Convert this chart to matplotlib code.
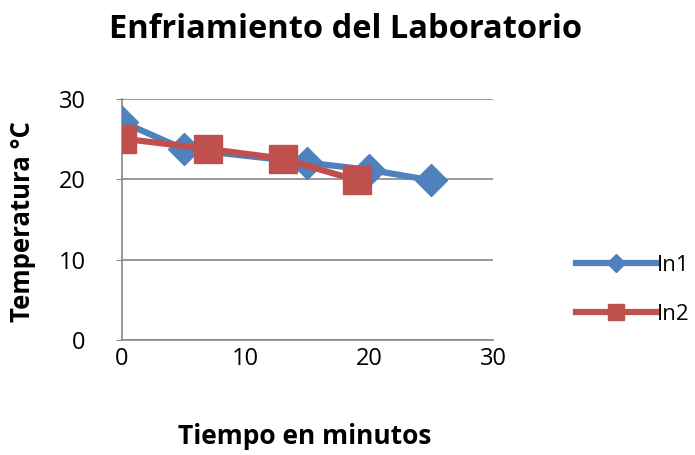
import matplotlib
matplotlib.use("Agg")
from matplotlib import pyplot as plt

# Lab cooling readings (minutes, degrees C)
t_in1 = [0, 5, 15, 20, 25]
temp_in1 = [27.2, 23.8, 22.1, 21.2, 19.9]
t_in2 = [0, 7, 13, 19]
temp_in2 = [25.1, 23.8, 22.6, 19.9]

y_ticks = [0, 10, 20, 30]
x_ticks = [0, 10, 20, 30]

plt.rcParams['font.family'] = ['Open Sans', 'DejaVu Sans']

fig = plt.figure(figsize=(6.95, 4.55), dpi=100)
ax = fig.add_axes([0.175, 0.2527, 0.5344, 0.5293])

blue = '#4F81BD'
red = '#C0504D'

ax.plot(t_in1, temp_in1, color=blue, linewidth=4.5, marker='D',
        markersize=16, label='In1', zorder=3)
ax.plot(t_in2, temp_in2, color=red, linewidth=4.5, marker='s',
        markersize=20, label='In2', zorder=4)

ax.set_xlim(0, 30)
ax.set_ylim(0, 30)
ax.set_xticks(x_ticks)
ax.set_yticks(y_ticks)
ax.yaxis.grid(True, color='#888888', linewidth=1.2)
ax.set_axisbelow(True)
for side in ['top', 'right']:
    ax.spines[side].set_visible(False)
for side in ['left', 'bottom']:
    ax.spines[side].set_color('#888888')
    ax.spines[side].set_linewidth(1.2)
ax.tick_params(axis='y', length=4, color='#888888', labelsize=17, pad=22)
ax.tick_params(axis='x', length=0, labelsize=17, pad=5)

ax.set_xlabel('Tiempo en minutos', fontsize=19, fontweight='bold', va='center')
ax.xaxis.set_label_coords(0.493, -0.402)
ax.set_ylabel('Temperatura °C', fontsize=18.5, fontweight='bold', va='center')
ax.yaxis.set_label_coords(-0.266, 0.49)
fig.text(0.497, 0.935, 'Enfriamiento del Laboratorio', ha='center', va='center',
         fontsize=23.5, fontweight='bold')

fig.legend(loc='center left', bbox_to_anchor=(0.80, 0.363), frameon=False,
           fontsize=16, handlelength=3.6, labelspacing=1.25, handletextpad=0.05,
           markerscale=0.55)

fig.savefig('out.png', dpi=100)
